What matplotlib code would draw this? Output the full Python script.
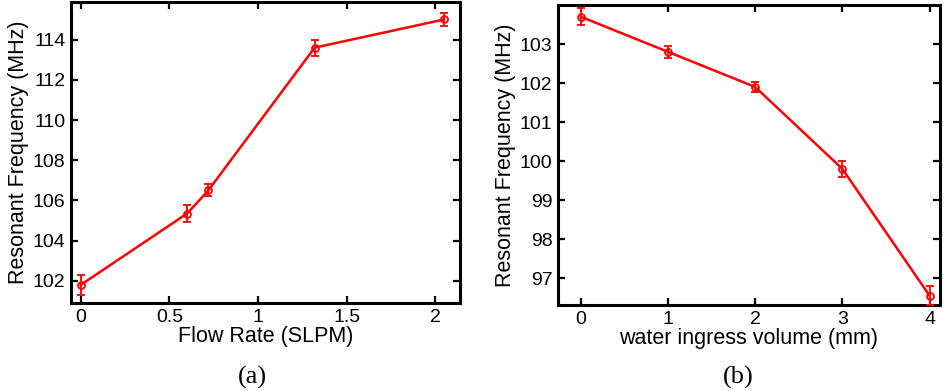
import matplotlib
matplotlib.use("Agg")
import matplotlib.pyplot as plt

# Panel (a)
flow_rate = [0.0, 0.6, 0.72, 1.32, 2.05]
freq_a = [101.8, 105.35, 106.5, 113.6, 115.0]
err_a = [0.5, 0.4, 0.3, 0.4, 0.3]
xticks_a = [0, 0.5, 1, 1.5, 2]
xticklabels_a = ["0", "0.5", "1", "1.5", "2"]
yticks_a = [102, 104, 106, 108, 110, 112, 114]

# Panel (b)
water_vol = [0, 1, 2, 3, 4]
freq_b = [103.7, 102.8, 101.9, 99.8, 96.55]
err_b = [0.22, 0.15, 0.12, 0.2, 0.25]
xticks_b = [0, 1, 2, 3, 4]
yticks_b = [97, 98, 99, 100, 101, 102, 103]

plt.rcParams['font.family'] = ['Liberation Sans', 'DejaVu Sans']

fig = plt.figure(figsize=(9.46, 3.91), dpi=100)
W, H = 946, 391
ax1 = fig.add_axes([71 / W, 1 - 303 / H, (460 - 71) / W, (303 - 2) / H])
ax2 = fig.add_axes([558 / W, 1 - 305 / H, (940 - 558) / W, (305 - 5) / H])

def style(ax):
    for s in ax.spines.values():
        s.set_linewidth(2.2)
        s.set_color('black')
    ax.tick_params(direction='in', top=True, right=True, length=5, width=1.6,
                   labelsize=14, pad=4)

for ax, x, y, e in [(ax1, flow_rate, freq_a, err_a), (ax2, water_vol, freq_b, err_b)]:
    ax.errorbar(x, y, yerr=e, color='#ff0000', lw=1.8, marker='o', ms=5,
                mfc='none', mec='#ff0000', mew=1.3, capsize=3, capthick=1.3,
                elinewidth=1.3, clip_on=False, zorder=3)
    style(ax)

ax1.set_xlim(-0.055, 2.14)
ax1.set_ylim(100.9, 115.87)
ax1.set_xticks(xticks_a)
ax1.set_xticklabels(xticklabels_a)
ax1.set_yticks(yticks_a)
ax1.set_xlabel("Flow Rate (SLPM)", fontsize=15.5, labelpad=0)
ax1.set_ylabel("Resonant Frequency (MHz)", fontsize=15.5, labelpad=3)

ax2.set_xlim(-0.26, 4.12)
ax2.set_ylim(96.31, 104.0)
ax2.set_xticks(xticks_b)
ax2.set_yticks(yticks_b)
ax2.set_xlabel("water ingress volume (mm)", fontsize=15.5, labelpad=0)
ax2.set_ylabel("Resonant Frequency (MHz)", fontsize=15.5, labelpad=3)

fig.text(252 / W, 1 - 377 / H, "(a)", fontsize=19, family='Liberation Serif',
         ha='center', va='center')
fig.text(738 / W, 1 - 377 / H, "(b)", fontsize=19, family='Liberation Serif',
         ha='center', va='center')

fig.savefig("out.png", dpi=100)
